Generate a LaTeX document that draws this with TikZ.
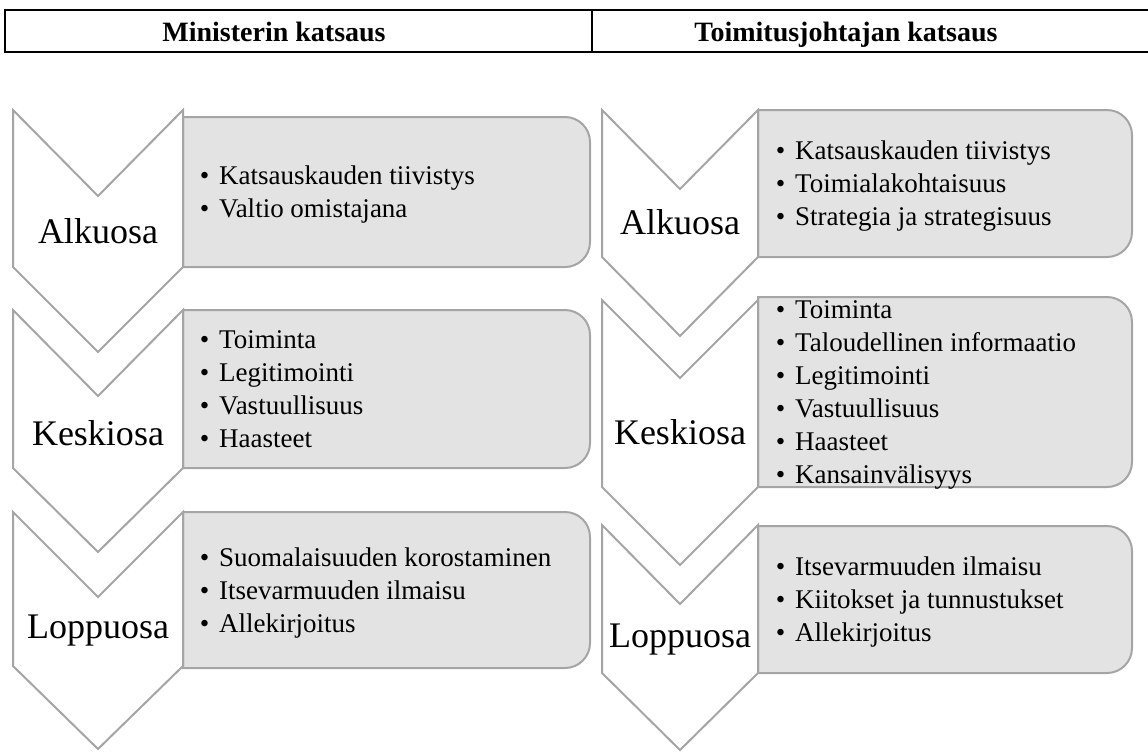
\documentclass[tikz,border=0pt]{standalone}
\usepackage{fontspec}
\setmainfont{Liberation Serif}
\definecolor{chevgray}{HTML}{A5A5A5}
\definecolor{boxgray}{HTML}{E3E3E3}
\newcommand\bul{\strut\makebox[14.6pt][l]{\textbullet}}
\newcommand\rbox[4]{\draw[boxshape] (#1,#2) -- ({#3-25},#2) arc[start angle=90,end angle=0,radius=18.75pt] -- (#3,{#4-25}) arc[start angle=0,end angle=-90,radius=18.75pt] -- (#1,#4) -- cycle;}
% chevron: left x, right x, top y, notch depth, side end y, tip depth
\newcommand\chev[6]{\draw[chevshape] (#1,#3) -- ({(#1+#2)/2},{#3+#4}) -- (#2,#3) -- (#2,#5) -- ({(#1+#2)/2},{#5+#6}) -- (#1,#5) -- cycle;}
\tikzset{
  chevshape/.style={draw=chevgray, fill=white, line width=1.5pt, line join=miter},
  boxshape/.style={draw=chevgray, fill=boxgray, line width=1.5pt},
  lbl/.style={font=\fontsize{27}{30}\selectfont, inner sep=0pt, anchor=base},
  items/.style={font=\fontsize{20.25}{24.75}\selectfont, align=left, inner sep=0pt, anchor=west},
  head/.style={font=\bfseries\fontsize{21}{24}\selectfont, inner sep=0pt, anchor=base},
}
\begin{document}
\begin{tikzpicture}[x=0.75pt,y=-0.75pt]
\useasboundingbox (0,0) rectangle (1148,751);
% header
\draw[line width=2pt, line join=miter] (1150,10) -- (5,10) -- (5,52) -- (1150,52);
\draw[line width=1.6pt] (592,10) -- (592,52);
\node[head] (h1) at (274,41) {Ministerin katsaus};
\node[head] (h2) at (846,41) {Toimitusjohtajan katsaus};
% left column boxes
\rbox{183}{117}{590}{267}
\rbox{183}{310}{590}{468}
\rbox{183}{512}{590}{668}
% left column chevrons
\chev{13}{183}{110}{86}{267}{85}
\chev{13}{183}{310}{86}{468}{84}
\chev{13}{183}{512}{85}{666}{83}
% right column boxes
\rbox{758}{110}{1132}{257}
\rbox{758}{297}{1132}{487}
\rbox{758}{526}{1132}{673}
% right column chevrons
\chev{602}{758}{110}{79}{257}{79}
\chev{602}{758}{300}{78}{487}{78}
\chev{602}{758}{525}{79}{673}{77}
% chevron labels
\node[lbl] (la1) at (98,243) {Alkuosa};
\node[lbl] (la2) at (98,445) {Keskiosa};
\node[lbl] (la3) at (98,638) {Loppuosa};
\node[lbl] (ra1) at (680,234) {Alkuosa};
\node[lbl] (ra2) at (680,444) {Keskiosa};
\node[lbl] (ra3) at (680,647) {Loppuosa};
% items
\node[items] (li1) at (199.5,194.5) {\bul Katsauskauden tiivistys\\\bul Valtio omistajana};
\node[items] (li2) at (199.5,391) {\bul Toiminta\\\bul Legitimointi\\\bul Vastuullisuus\\\bul Haasteet};
\node[items] (li3) at (199.5,592.5) {\bul Suomalaisuuden korostaminen\\\bul Itsevarmuuden ilmaisu\\\bul Allekirjoitus};
\node[items] (ri1) at (775.5,186) {\bul Katsauskauden tiivistys\\\bul Toimialakohtaisuus\\\bul Strategia ja strategisuus};
\node[items] (ri2) at (775.5,394.5) {\bul Toiminta\\\bul Taloudellinen informaatio\\\bul Legitimointi\\\bul Vastuullisuus\\\bul Haasteet\\\bul Kansainvälisyys};
\node[items] (ri3) at (775.5,602) {\bul Itsevarmuuden ilmaisu\\\bul Kiitokset ja tunnustukset\\\bul Allekirjoitus};
\end{tikzpicture}
\end{document}
